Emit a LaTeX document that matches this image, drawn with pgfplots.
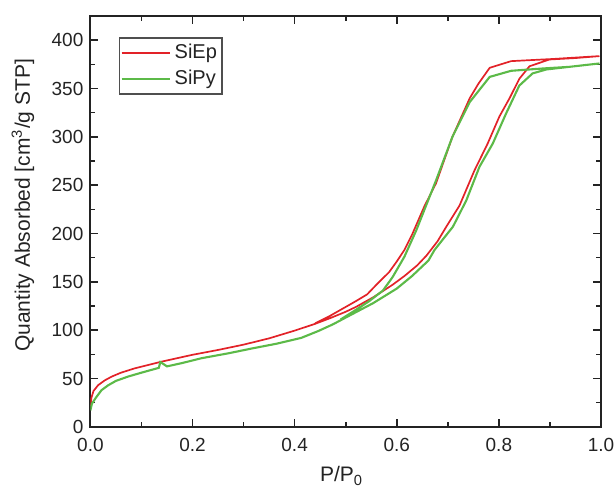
\documentclass[border=0pt]{standalone}
\usepackage{fontspec}
\setmainfont{Liberation Sans}
\usepackage{pgfplots}
\pgfplotsset{compat=1.18}
\definecolor{epred}{RGB}{226,34,40}
\definecolor{pygreen}{RGB}{92,186,72}
\definecolor{axisgray}{RGB}{35,35,35}

\begin{document}
\begin{tikzpicture}
\begin{axis}[
  scale only axis, width=255.3pt, height=205.4pt,
  xmin=0, xmax=1, ymin=0, ymax=425,
  xtick={0,0.2,0.4,0.6,0.8,1}, ytick={0,50,100,150,200,250,300,350,400},
  xticklabels={0.0,0.2,0.4,0.6,0.8,1.0},
  minor x tick num=1, minor y tick num=1,
  major tick length=4pt, minor tick length=2.5pt,
  axis line style={line width=0.9pt, color=axisgray},
  every tick/.style={line width=0.8pt, color=axisgray},
  tick label style={font=\fontsize{9.5}{11}\selectfont, color=axisgray},
  /pgf/number format/assume math mode=true,
  yticklabel style={/pgf/number format/fixed},
  xticklabel style={yshift=-2pt},
  xlabel={P/P\textsubscript{0}},
  ylabel={Quantity Absorbed [cm\textsuperscript{3}/g STP]},
  label style={font=\fontsize{10.5}{12}\selectfont, color=axisgray},
  xlabel style={at={(axis description cs:0.492,0)}, anchor=base, yshift=-27.5pt},
  ylabel style={at={(axis description cs:-0.132,0.539)}, anchor=center},
  legend style={at={(0.056,0.948)}, anchor=north west, draw=axisgray!80,
    line width=0.6pt, font=\fontsize{10}{12}\selectfont, text=axisgray,
    inner xsep=0.5pt, inner ysep=1pt, row sep=0.5pt},
  legend cell align=left,
  legend image code/.code={\draw[#1] (0pt,0pt) -- (24pt,0pt);},
]
% SiEp: adsorption 0 -> 1, then desorption back
\addplot[color=epred, line width=0.85pt] coordinates {
  (0.000,22) (0.002,30) (0.006,37) (0.015,43) (0.028,48) (0.042,52)
  (0.060,56) (0.087,60.5) (0.110,63.5) (0.136,67) (0.170,71) (0.200,74.5)
  (0.250,79.5) (0.300,85) (0.350,91.5) (0.400,99.5) (0.440,106.5) (0.470,112.5)
  (0.500,119) (0.520,124) (0.554,134) (0.592,147) (0.615,156) (0.640,167)
  (0.658,177) (0.680,192) (0.697,207) (0.723,229) (0.752,265) (0.778,293)
  (0.801,321) (0.821,340) (0.840,360) (0.860,373) (0.899,380) (0.950,381.5)
  (0.997,383.5)
  (0.905,380.5) (0.860,379.3) (0.824,378.3) (0.782,371.4) (0.760,355)
  (0.743,340) (0.709,300) (0.677,252) (0.654,228) (0.631,200) (0.615,183)
  (0.600,171) (0.585,160) (0.562,148) (0.542,137) (0.520,130) (0.500,124)
  (0.470,115) (0.440,107)
};
\addlegendentry{SiEp}
% SiPy: adsorption 0 -> 1, then desorption back
\addplot[color=pygreen, line width=1.05pt] coordinates {
  (0.000,17) (0.003,24) (0.012,31) (0.022,38) (0.035,43) (0.050,47.5)
  (0.074,52) (0.100,56) (0.134,61) (0.137,67) (0.150,62.5) (0.180,66)
  (0.218,71) (0.270,76) (0.316,81) (0.365,86) (0.413,92) (0.446,99)
  (0.475,106) (0.500,113) (0.554,128) (0.600,143) (0.630,156) (0.662,172)
  (0.674,183) (0.710,207) (0.736,234) (0.762,269) (0.788,293) (0.814,324)
  (0.840,353) (0.866,365.6) (0.893,369.7) (0.938,372.4) (0.997,375.9)
  (0.938,372.4) (0.886,370.7) (0.824,368.3) (0.782,362) (0.743,336)
  (0.709,300) (0.677,255) (0.638,203) (0.615,176) (0.592,155) (0.573,141)
  (0.546,130) (0.520,121) (0.490,111)
};
\addlegendentry{SiPy}
\coordinate (SW) at (rel axis cs:0,0);
\coordinate (NE) at (rel axis cs:1,1);
\end{axis}
\pgfresetboundingbox
\path[use as bounding box] ([xshift=-45.2pt,yshift=-29.65pt]SW) rectangle ([xshift=7pt,yshift=8pt]NE);
\end{tikzpicture}
\end{document}
